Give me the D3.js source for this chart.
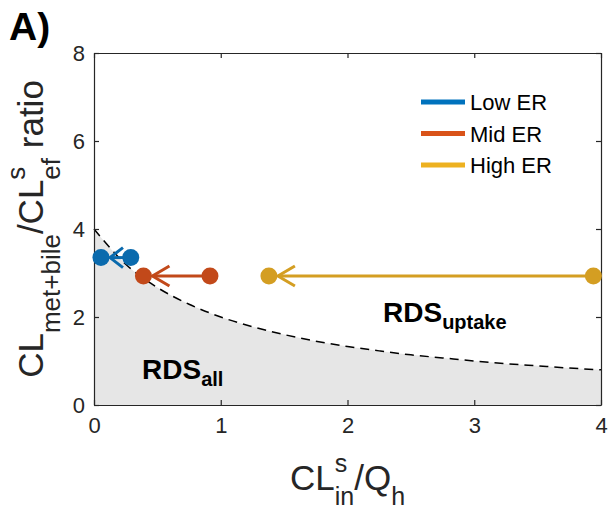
<!DOCTYPE html>
<html>
<head>
<meta charset="utf-8">
<script src="https://cdn.jsdelivr.net/npm/d3@7"></script>
<style>
html,body{margin:0;padding:0;background:#fff;}
svg{display:block;font-family:Arial,"Liberation Sans",Helvetica,sans-serif;}
</style>
</head>
<body>
<svg id="chart" width="610" height="512"></svg>
<script>
// ---- data ----
const seriesNames = ["Low ER", "Mid ER", "High ER"];
const seriesColors = ["#0a6aad", "#c2491a", "#d49e22"];
const legendColors = ["#0072bd", "#d95319", "#edb120"];
const startX = [0.29, 0.915, 3.94];   // before (right dot)
const endX   = [0.055, 0.39, 1.38];   // after (left dot)
const pointY = [3.35, 2.93, 2.93];
const boundaryX = [0,0.25,0.5,0.75,1,1.25,1.5,1.75,2,2.25,2.5,2.75,3,3.25,3.5,3.75,4];
const boundaryY = [4.0,3.2,2.67,2.29,2.0,1.78,1.6,1.45,1.33,1.23,1.14,1.07,1.0,0.94,0.89,0.84,0.8];
const xTicks = [0,1,2,3,4];
const yTicks = [0,2,4,6,8];

// ---- layout ----
const svg = d3.select("#chart");
const L = 94, R = 601, T = 53, B = 405;
const x = d3.scaleLinear().domain([0,4]).range([L,R]);
const y = d3.scaleLinear().domain([0,8]).range([B,T]);
const axisCol = "#262626";

// shaded region
svg.append("path")
  .datum(boundaryX.map((d,i)=>[d,boundaryY[i]]))
  .attr("fill","#e6e6e6")
  .attr("d", d3.area().x(d=>x(d[0])).y0(y(0)).y1(d=>y(d[1])).curve(d3.curveMonotoneX));

// dashed boundary
svg.append("path")
  .datum(boundaryX.map((d,i)=>[d,boundaryY[i]]))
  .attr("fill","none").attr("stroke","#000").attr("stroke-width",1.5)
  .attr("stroke-dasharray","9,6")
  .attr("d", d3.line().x(d=>x(d[0])).y(d=>y(d[1])).curve(d3.curveMonotoneX));

// axes
const gx = svg.append("g").attr("transform",`translate(0,${B})`)
  .call(d3.axisBottom(x).tickValues(xTicks).tickFormat(d3.format("d")).tickSizeInner(-5).tickSizeOuter(0).tickPadding(12));
const gy = svg.append("g").attr("transform",`translate(${L},0)`)
  .call(d3.axisLeft(y).tickValues(yTicks).tickFormat(d3.format("d")).tickSizeInner(-5).tickSizeOuter(0).tickPadding(9));
const gx2 = svg.append("g").attr("transform",`translate(0,${T})`)
  .call(d3.axisTop(x).tickValues(xTicks).tickFormat("").tickSizeInner(-5).tickSizeOuter(0));
const gy2 = svg.append("g").attr("transform",`translate(${R},0)`)
  .call(d3.axisRight(y).tickValues(yTicks).tickFormat("").tickSizeInner(-5).tickSizeOuter(0));
[gx,gy,gx2,gy2].forEach(g=>{
  g.select(".domain").attr("stroke",axisCol).attr("stroke-width",1.2);
  g.selectAll(".tick line").attr("stroke",axisCol).attr("stroke-width",1.2);
  g.selectAll(".tick text").attr("fill",axisCol).attr("font-size",22).attr("font-family","Arial, 'Liberation Sans', sans-serif");
});

// arrows
seriesNames.forEach((name,i)=>{
  const c = seriesColors[i];
  const yy = y(pointY[i]);
  const tip = x(endX[i]) + 9;
  const ah = i===0 ? 13 : 17;
  const g = svg.append("g");
  g.append("line").attr("x1",x(startX[i])).attr("x2",tip).attr("y1",yy).attr("y2",yy)
    .attr("stroke",c).attr("stroke-width",3);
  g.append("path").attr("d",`M${tip+ah},${yy-10}L${tip},${yy}L${tip+ah},${yy+10}`)
    .attr("fill","none").attr("stroke",c).attr("stroke-width",3);
  g.append("circle").attr("cx",x(startX[i])).attr("cy",yy).attr("r",8.5).attr("fill",c);
  g.append("circle").attr("cx",x(endX[i])).attr("cy",yy).attr("r",8.5).attr("fill",c);
});

// legend
const lg = svg.append("g");
seriesNames.forEach((name,i)=>{
  const yy = 102 + i*31.5;
  lg.append("line").attr("x1",421).attr("x2",465).attr("y1",yy).attr("y2",yy)
    .attr("stroke",legendColors[i]).attr("stroke-width",5);
  lg.append("text").attr("x",470).attr("y",yy+8).attr("font-size",22).attr("fill","#000").text(name);
});

// rich text helper
function rich(parent, parts, opts){
  const g = parent.append("g");
  const t = g.append("text").attr("fill",opts.fill||axisCol).attr("font-weight",opts.weight||"normal");
  let cx = 0, prevW = 0;
  parts.forEach(p=>{
    const tmp = g.append("text").attr("font-size",p.size).attr("font-weight",opts.weight||"normal").text(p.t);
    const w = tmp.node().getComputedTextLength(); tmp.remove();
    let px = cx;
    if (p.stack) { px = cx - prevW; }
    t.append("tspan").attr("x",px).attr("y",p.dy||0).attr("font-size",p.size).text(p.t);
    if (p.stack) { cx = Math.max(cx, px + w); } else { cx = px + w; }
    prevW = w;
  });
  const total = cx;
  let ox = opts.anchor==="middle" ? -total/2 : 0;
  t.attr("transform",`translate(${ox},0)`);
  g.attr("transform", opts.transform);
  return g;
}

// axis labels
rich(svg, [
  {t:"CL", size:35},
  {t:"s", size:25, dy:-18},
  {t:"in", size:25, dy:15, stack:true},
  {t:"/Q", size:35},
  {t:"h", size:25, dy:15}
], {anchor:"middle", transform:`translate(${(L+R)/2},490)`});

rich(svg, [
  {t:"CL", size:35},
  {t:"met+bile", size:26, dy:17},
  {t:"/CL", size:35},
  {t:"s", size:26, dy:-18},
  {t:"ef", size:26, dy:17, stack:true},
  {t:"\u00a0ratio", size:35}
], {anchor:"middle", transform:`translate(43,${(T+B)/2}) rotate(-90)`});

// region labels
rich(svg, [{t:"RDS", size:28},{t:"all", size:20, dy:7}], {fill:"#000", weight:"bold", transform:"translate(142,379)"});
rich(svg, [{t:"RDS", size:28},{t:"uptake", size:20, dy:7}], {fill:"#000", weight:"bold", transform:"translate(383,322)"});

// panel label
svg.append("text").attr("x",9).attr("y",40).attr("font-size",39).attr("font-weight","bold").attr("fill","#000").text("A)");
</script>
</body>
</html>
